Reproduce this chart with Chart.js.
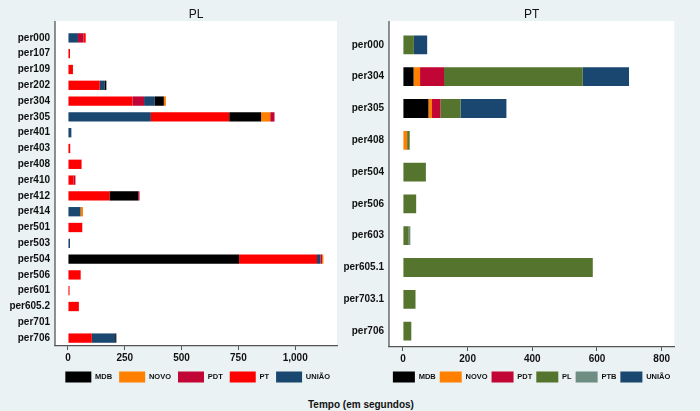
<!DOCTYPE html>
<html>
<head>
<meta charset="utf-8">
<script src="https://cdn.jsdelivr.net/npm/chart.js@4.4.1/dist/chart.umd.min.js"></script>
<style>
  html, body { margin: 0; padding: 0; background: #eaf2f3; }
  #wrap { position: relative; width: 700px; height: 411px; overflow: hidden; }
  canvas { position: absolute; top: 0; }
  #plChart { left: 0; }
  #ptChart { left: 338px; }
  #xTitle { position: absolute; left: 308px; top: 399px; font: bold 10px "Liberation Sans", Arial, sans-serif; line-height: 12px; color: #111; white-space: nowrap; }
</style>
</head>
<body>
<div id="wrap">
  <canvas id="plChart" width="345" height="395"></canvas>
  <canvas id="ptChart" width="362" height="395"></canvas>
  <div id="xTitle">Tempo (em segundos)</div>
</div>
<script>
// Painel PL
const plCats = ['per000','per107','per109','per202','per304','per305','per401','per403','per408','per410',
                'per412','per414','per501','per503','per504','per506','per601','per605.2','per701','per706'];
const plParties = ['MDB', 'NOVO', 'PDT', 'PT', 'UNIÃO'];
const plMDB   = [0, 0, 0, 7, 40, 140, 0, 0, 0, 0, 125, 0, 0, 0, 753, 0, 0, 0, 0, 5];
const plNOVO  = [0, 0, 0, 0, 9, 40, 0, 0, 0, 0, 0, 10, 0, 0, 6, 0, 0, 0, 0, 0];
const plPDT   = [24, 0, 0, 0, 51, 19, 0, 0, 0, 8, 6, 0, 0, 0, 7, 0, 0, 0, 0, 0];
const plPT    = [10, 9, 22, 140, 284, 345, 0, 10, 60, 25, 184, 0, 63, 0, 343, 56, 7, 48, 0, 105];
const plUNIAO = [44, 0, 0, 22, 47, 365, 15, 0, 0, 0, 0, 56, 0, 9, 15, 0, 0, 0, 0, 103];
const plTicks = [0, 250, 500, 750, 1000];

// Painel PT
const ptCats = ['per000','per304','per305','per408','per504','per506','per603','per605.1','per703.1','per706'];
const ptParties = ['MDB', 'NOVO', 'PDT', 'PL', 'PTB', 'UNIÃO'];
const ptMDB   = [0, 33, 79, 0, 0, 0, 0, 0, 0, 0];
const ptNOVO  = [0, 20, 11, 13, 0, 0, 0, 0, 0, 0];
const ptPDT   = [0, 74, 26, 0, 0, 0, 0, 0, 0, 0];
const ptPL    = [34, 429, 62, 8, 71, 41, 18, 587, 39, 26];
const ptPTB   = [0, 0, 0, 0, 0, 0, 5, 0, 0, 0];
const ptUNIAO = [41, 143, 142, 0, 0, 0, 0, 0, 0, 0];
const ptTicks = [0, 200, 400, 600, 800];

const partyColors = {
  'MDB': '#000000', 'NOVO': '#ff7f00', 'PDT': '#c10534', 'PT': '#ff0000',
  'UNIÃO': '#1a476f', 'PL': '#55752f', 'PTB': '#6e8e84'
};

const FONT = '"Liberation Sans", Arial, sans-serif';
Chart.defaults.font.family = FONT;

// empilha cada linha: PL ordenado do maior para o menor, PT na ordem dos partidos
function floatingSeries(series, sortDesc) {
  const n = series[0].length;
  const out = series.map(() => new Array(n).fill(null));
  for (let i = 0; i < n; i++) {
    const order = series.map((s, k) => k);
    if (sortDesc) order.sort((a, b) => series[b][i] - series[a][i]);
    let acc = 0;
    order.forEach(k => {
      const v = series[k][i];
      if (v > 0) { out[k][i] = [acc, acc + v]; acc += v; }
    });
  }
  return out;
}

// fundo branco da area do grafico + eixo vertical
const plotBg = {
  id: 'plotBg',
  beforeDraw(chart, args, opts) {
    const { ctx, chartArea: a } = chart;
    ctx.save();
    ctx.fillStyle = '#ffffff';
    ctx.fillRect(a.left, opts.top, a.right - a.left, a.bottom - opts.top);
    ctx.strokeStyle = '#555555';
    ctx.lineWidth = 1.3;
    ctx.beginPath();
    ctx.moveTo(a.left, opts.top);
    ctx.lineTo(a.left, a.bottom);
    ctx.stroke();
    ctx.restore();
  }
};

function buildChart(id, cats, parties, series, ticks, opt) {
  const bars = floatingSeries(series, opt.sortDesc);
  return new Chart(document.getElementById(id), {
    type: 'bar',
    data: {
      labels: cats,
      datasets: parties.map((p, k) => ({
        label: p,
        data: bars[k],
        backgroundColor: partyColors[p],
        borderColor: partyColors[p],
        borderWidth: 0
      }))
    },
    options: {
      responsive: false,
      animation: false,
      indexAxis: 'y',
      layout: { padding: { left: 0, right: opt.padRight, top: 0, bottom: 2.5 } },
      datasets: { bar: { grouped: false, categoryPercentage: 1, barPercentage: 0.59 } },
      scales: {
        x: {
          min: opt.min,
          max: opt.max,
          afterBuildTicks: s => { s.ticks = ticks.map(v => ({ value: v })); },
          afterFit: s => { s.height = opt.xAxisH; },
          grid: { drawOnChartArea: false, drawTicks: true, tickLength: 4, color: '#555555' },
          border: { display: true, color: '#555555', width: 1.2 },
          ticks: {
            padding: 2,
            color: '#111111',
            font: { size: 10, weight: 'bold' },
            callback: v => Number(v).toLocaleString('en-US')
          }
        },
        y: {
          afterFit: s => { s.width = opt.yAxisW; },
          grid: { display: false, drawTicks: false },
          border: { display: false },
          ticks: { autoSkip: false, padding: 5, color: '#111111', font: { size: 10, weight: 'bold' } }
        }
      },
      plugins: {
        title: {
          display: true, text: opt.title, fullSize: false, color: '#111111',
          font: { size: 12, weight: 'normal' },
          padding: { top: 7.3, bottom: opt.titleBottom }
        },
        legend: {
          position: 'bottom', align: 'end', fullSize: true,
          labels: {
            boxWidth: opt.boxW, boxHeight: 11, padding: opt.legPad, color: '#111111',
            font: { size: 7.5, weight: 'bold' }
          }
        },
        tooltip: { enabled: false },
        plotBg: { top: 21 }
      }
    },
    plugins: [plotBg]
  });
}

buildChart('plChart', plCats, plParties, [plMDB, plNOVO, plPDT, plPT, plUNIAO], plTicks, {
  title: 'PL', sortDesc: true, min: -57, max: 1184,
  yAxisW: 55, padRight: 8, xAxisH: 18.5, titleBottom: 8.3, boxW: 26, legPad: 7
});

buildChart('ptChart', ptCats, ptParties, [ptMDB, ptNOVO, ptPDT, ptPL, ptPTB, ptUNIAO], ptTicks, {
  title: 'PT', sortDesc: false, min: -43, max: 839,
  yAxisW: 51, padRight: 25.7, xAxisH: 20.5, titleBottom: 7.3, boxW: 22, legPad: 4
});
</script>
</body>
</html>
